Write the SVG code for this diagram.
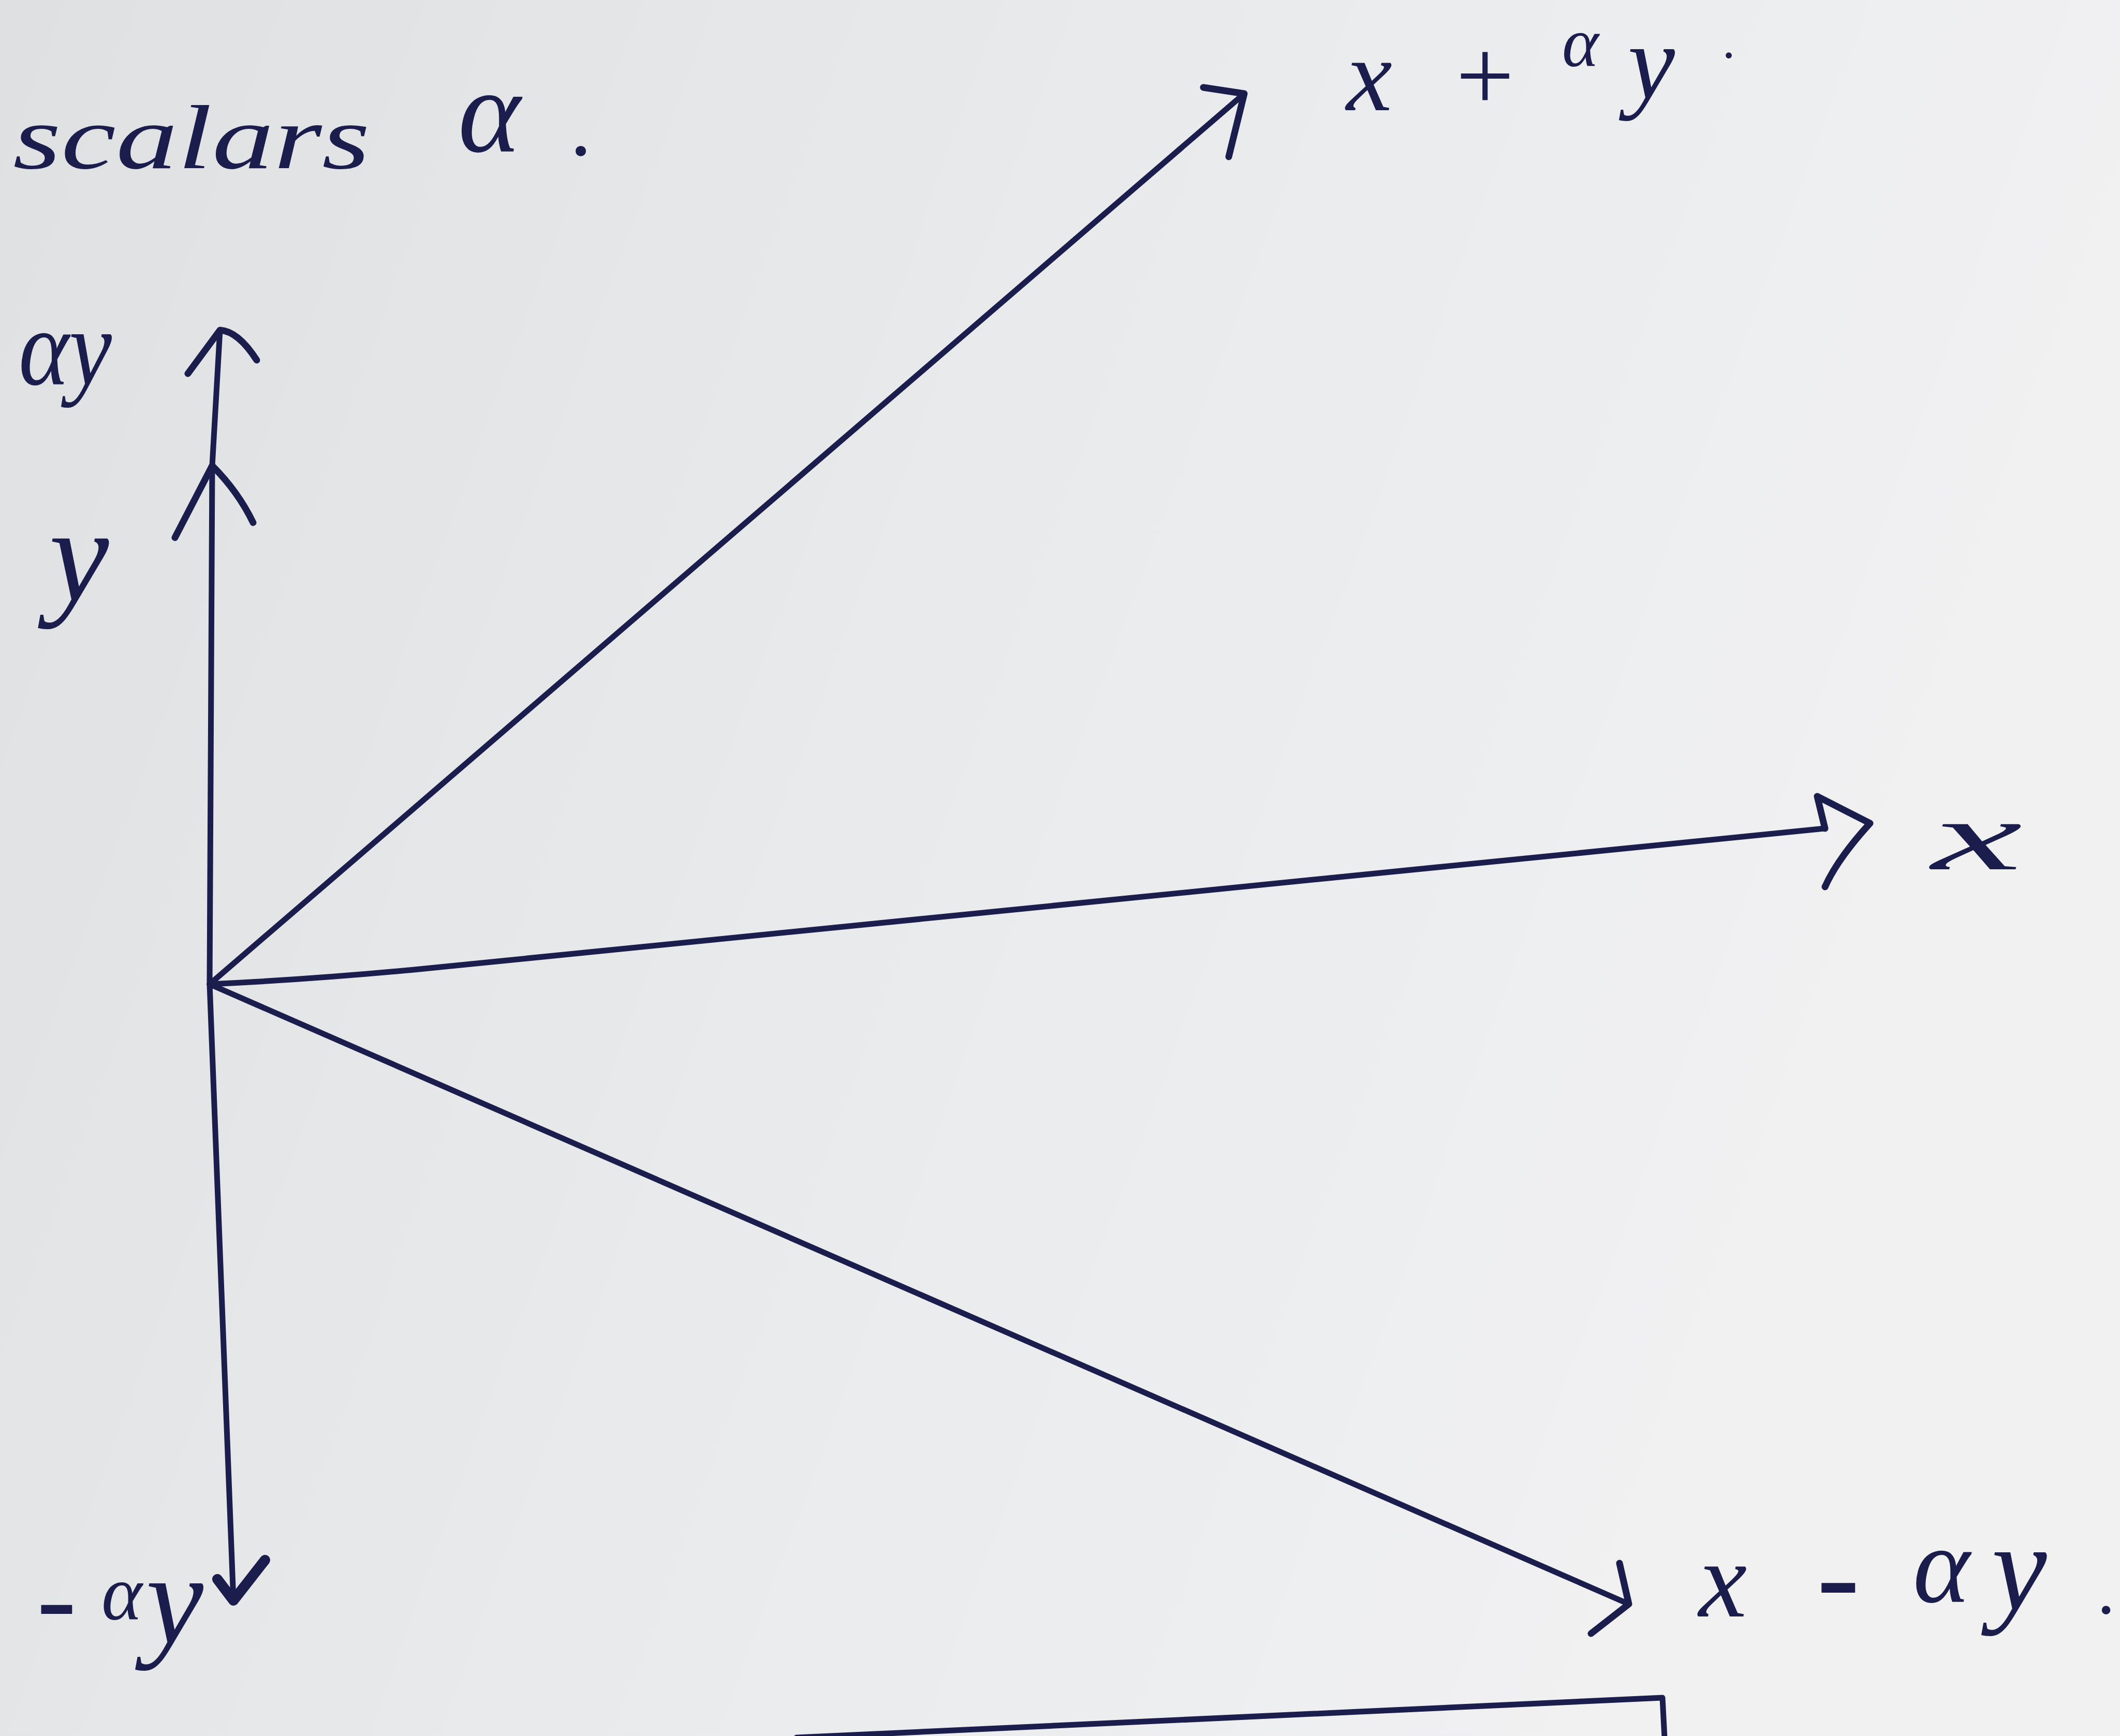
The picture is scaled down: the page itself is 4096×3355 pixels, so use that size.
<svg xmlns="http://www.w3.org/2000/svg" width="4096" height="3355" viewBox="0 0 4096 3355">
  <defs>
    <linearGradient id="paper" x1="0" y1="0" x2="1" y2="0.3">
      <stop offset="0" stop-color="#dfe0e2"/>
      <stop offset="0.5" stop-color="#e9eaec"/>
      <stop offset="1" stop-color="#f1f1f2"/>
    </linearGradient>
    <style>
      .ink { fill: none; stroke: #1b1d4d; stroke-width: 11; stroke-linecap: round; stroke-linejoin: round; }
      .head { fill: none; stroke: #1b1d4d; stroke-width: 13; stroke-linecap: round; stroke-linejoin: round; }
      .lbl { fill: #1b1d4d; font-family: "Liberation Serif", "DejaVu Serif", serif; font-style: italic; }
    </style>
  </defs>
  <rect x="0" y="0" width="4096" height="3355" fill="url(#paper)"/>

  <g id="connectors">
    <g id="axis-up">
      <path class="ink" d="M405,1902 L410,900 L425,638"/>
      <path class="head" d="M363,722 L425,638 Q460,640 496,696"/>
      <path class="head" d="M338,1039 L410,900 Q460,950 489,1010"/>
    </g>
    <g id="axis-down">
      <path class="ink" d="M405,1902 L451,3093"/>
      <path class="head" style="stroke-width:20" d="M420,3052 L451,3093 L512,3015"/>
    </g>
    <g id="arrow-x-plus">
      <path class="ink" d="M405,1902 L2404,181"/>
      <path class="head" d="M2325,169 L2404,181 L2374,303"/>
    </g>
    <g id="arrow-x">
      <path class="ink" d="M405,1902 Q600,1893 800,1874 L3526,1601"/>
      <path class="head" d="M3526,1601 L3511,1539 L3613,1591 Q3550,1660 3526,1714"/>
    </g>
    <g id="arrow-x-minus">
      <path class="ink" d="M405,1902 L3147,3100"/>
      <path class="head" d="M3129,3021 L3147,3100 L3074,3157"/>
    </g>
    <g id="box-edge">
      <path class="ink" d="M1539,3358 L3212,3281 L3216,3358"/>
    </g>
  </g>

  <g id="label-scalars">
    <text class="lbl" font-size="175" y="325"><tspan x="25" textLength="690" lengthAdjust="spacingAndGlyphs">scalars</tspan><tspan x="885" y="293" font-size="230">α</tspan><tspan x="1105" y="300" font-size="170">.</tspan></text>
  </g>
  <g id="label-alpha-y">
    <text class="lbl" x="36" y="743" font-size="210" textLength="180" lengthAdjust="spacingAndGlyphs">αy</text>
  </g>
  <g id="label-y">
    <text class="lbl" x="95" y="1160" font-size="260">y</text>
  </g>
  <g id="label-neg-alpha-y">
    <text class="lbl" font-size="230" y="3165"><tspan x="71">-</tspan><tspan x="196" y="3130" font-size="150">α</tspan><tspan x="282" y="3175" font-size="250">y</tspan></text>
  </g>
  <g id="label-x-plus-alpha-y">
    <text class="lbl" font-size="200" y="213"><tspan x="2601">x</tspan><tspan x="2800">+</tspan><tspan x="3018" y="128" font-size="135">α</tspan><tspan x="3145" y="190" font-size="205">y</tspan><tspan x="3330" y="112" font-size="100">.</tspan></text>
  </g>
  <g id="label-x">
    <text class="lbl" x="3732" y="1680" font-size="190" textLength="175" lengthAdjust="spacingAndGlyphs">x</text>
  </g>
  <g id="label-x-minus-alpha-y">
    <text class="lbl" font-size="210" y="3124"><tspan x="3282">x</tspan><tspan x="3510" y="3128" font-size="250">-</tspan><tspan x="3696" y="3096" font-size="210">α</tspan><tspan x="3848" y="3110" font-size="240">y</tspan><tspan x="4055" y="3118" font-size="140">.</tspan></text>
  </g>
</svg>
